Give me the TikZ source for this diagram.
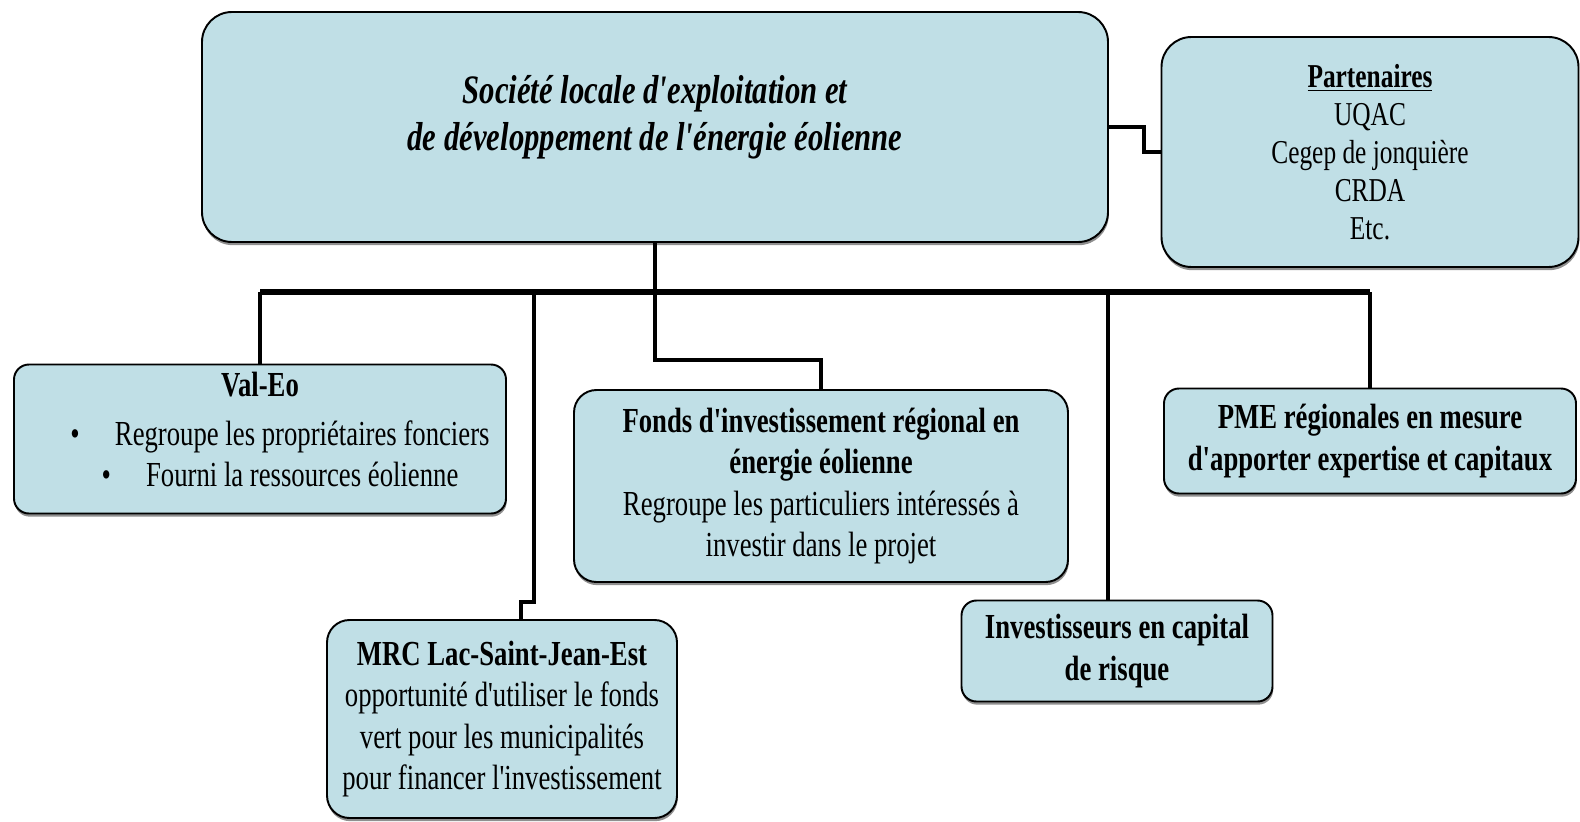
\documentclass[tikz,border=0pt]{standalone}
\usepackage{fontspec}
\setmainfont[FakeStretch=0.76, Ligatures=TeXOff]{Liberation Serif}
\usepackage{xcolor}
\usepackage{tikz}
\usetikzlibrary{calc}
\usetikzlibrary{positioning,shadows}
\definecolor{boxColor}{HTML}{C0DFE6}
\tikzstyle{orgbox}=[rectangle, rounded corners=0.45cm, draw=black, line width=1.1pt, fill=boxColor, align=center, inner sep=4pt, drop shadow={shadow xshift=0.4pt, shadow yshift=-1.8pt, fill=black!55, opacity=0.8}]
\tikzstyle{orgboxSmall}=[orgbox, rounded corners=0.3cm]
\tikzset{
	link/.style={
		line width=2pt,
		line join=miter
	},
	busline/.style={
		line width=3pt
	}
}

\begin{document}
\begin{tikzpicture}[node distance=2cm, font=\fontsize{20}{23.5}\selectfont]
	\useasboundingbox (0,0) rectangle (31.6,-16.42);
	
	\node(Societe)[orgbox, rounded corners=0.6cm, minimum width=18.12cm, minimum height=4.6cm, font=\fontsize{23}{27}\selectfont\bfseries\itshape] at (13.10,-2.54) {Société locale d'exploitation et\\ de développement de l'énergie éolienne\\[-0.39cm]};
	
	\node(Partenaires)[orgbox, rounded corners=0.6cm, minimum width=8.34cm, minimum height=4.6cm, font=\fontsize{19}{21.6}\selectfont, right of=Societe, xshift=12.3cm, yshift=-0.5cm]{\textbf{\underline{Partenaires}}\\ UQAC\\ Cegep de jonquière\\ CRDA\\ Etc.};
	
	
	\node(ValEo)[orgboxSmall, minimum width=9.84cm, minimum height=2.98cm, below of=Societe, xshift=-7.9cm, yshift=-4.24cm]{\textbf{Val-Eo}\\[4pt] \hspace*{0.8cm}\textbullet\quad Regroupe les propriétaires fonciers\\ \hspace*{0.8cm}\textbullet\quad Fourni la ressources éolienne\\[-0.45cm]};
	
	\node(Fonds)[orgbox, minimum width=9.88cm, minimum height=3.84cm, below of=Societe, xshift=3.32cm, yshift=-5.18cm]{\textbf{Fonds d'investissement régional en}\\ \textbf{énergie éolienne}\\ Regroupe les particuliers intéressés à\\ investir dans le projet};
	
	\node(PME)[orgboxSmall, minimum width=8.24cm, minimum height=2.1cm, below of=Partenaires, yshift=-3.78cm, font=\fontsize{20}{23.5}\selectfont\bfseries]{PME régionales en mesure\\ d'apporter expertise et capitaux};
	
	\node(MRC)[orgbox, minimum width=7.0cm, minimum height=3.96cm, below of=ValEo, xshift=4.84cm, yshift=-3.6cm]{\textbf{MRC Lac-Saint-Jean-Est}\\ opportunité d'utiliser le fonds\\ vert pour les municipalités\\ pour financer l'investissement};
	
	\node(Investisseurs)[orgboxSmall, minimum width=6.22cm, minimum height=2.02cm, below of=Fonds, xshift=5.92cm, yshift=-1.3cm, font=\fontsize{20}{23.5}\selectfont\bfseries]{Investisseurs en capital\\ de risque};
	
	
	% bus under the main box
	\coordinate (bus) at (0,-5.84);
	\draw [busline] (ValEo.north |- bus) -- (PME.north |- bus);
	
	\draw [link] (Societe.east) -- ++(0.7,0) |- (Partenaires.west);
	\draw [link] (Societe.south) -- (Societe.south |- 0,-7.2) -| (Fonds.north);
	\draw [link] (ValEo.north |- bus) -- (ValEo.north);
	\draw [link] ([xshift=0.64cm]MRC.north |- bus) -- ([xshift=0.64cm]MRC.north |- 0,-12.04) -| ([xshift=0.38cm]MRC.north);
	\draw [link] ([xshift=-0.18cm]Investisseurs.north |- bus) -- ([xshift=-0.18cm]Investisseurs.north);
	\draw [link] (PME.north |- bus) -- (PME.north);
	
	\end{tikzpicture}
\end{document}
